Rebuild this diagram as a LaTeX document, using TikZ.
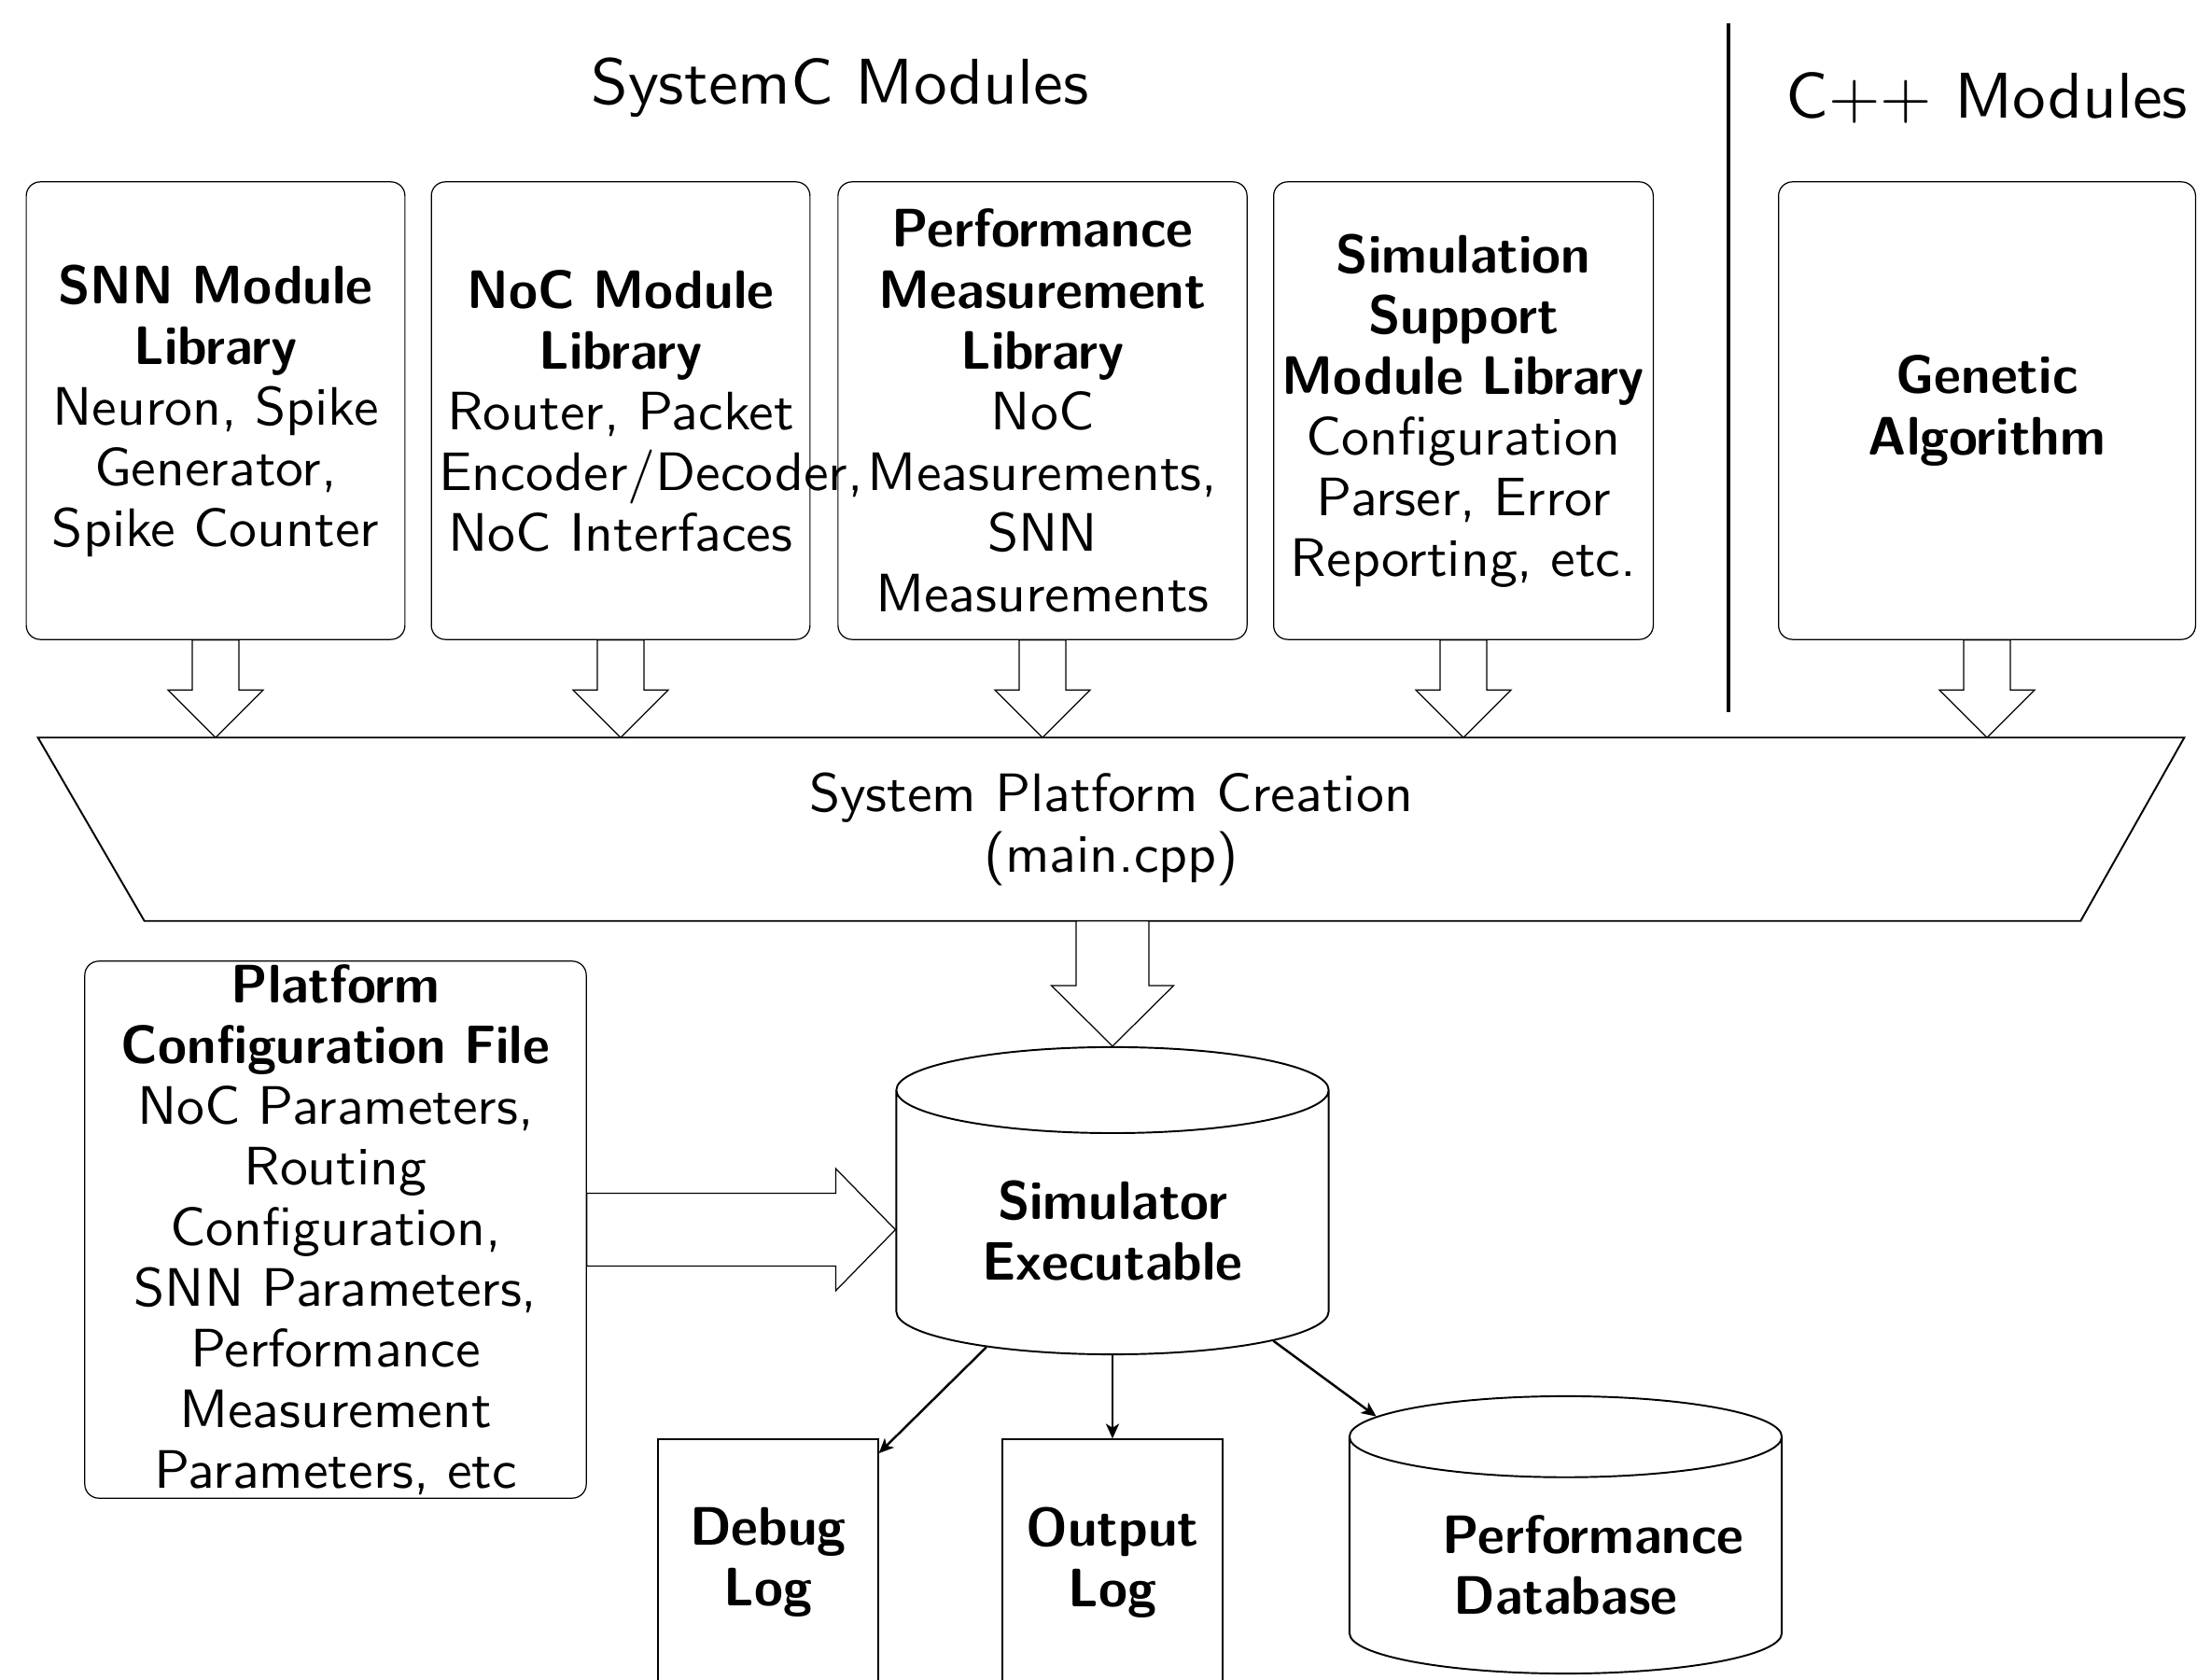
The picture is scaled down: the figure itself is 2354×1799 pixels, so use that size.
\documentclass[tikz,border=0pt]{standalone}
\usepackage{fontspec}
\setsansfont{lmsans10-regular.otf}[FakeStretch=1.03]
\newfontfamily\hdfont{lmsans10-bold.otf}[FakeStretch=0.97]
\renewcommand\familydefault{\sfdefault}
\usetikzlibrary{shapes.geometric,calc,arrows.meta}
\newcommand\boxfont{\fontsize{16.5}{18.5}\selectfont}
\newcommand\titlefont{\fontsize{19.7}{24}\selectfont}
\newcommand\hd[1]{{\hdfont #1}}
% #1 start point, #2 tip, #3 shaft half width, #4 head half width, #5 head length
\newcommand\blockdown[5]{%
  \draw[barrow] ($(#1)+(-#3,0)$) -- ($(#2)+(-#3,#5)$) -- ($(#2)+(-#4,#5)$) -- (#2)
    -- ($(#2)+(#4,#5)$) -- ($(#2)+(#3,#5)$) -- ($(#1)+(#3,0)$) -- cycle;}
\newcommand\blockright[5]{%
  \draw[barrow] ($(#1)+(0,#3)$) -- ($(#2)+(-#5,#3)$) -- ($(#2)+(-#5,#4)$) -- (#2)
    -- ($(#2)+(-#5,-#4)$) -- ($(#2)+(-#5,-#3)$) -- ($(#1)+(0,-#3)$) -- cycle;}
\begin{document}
\begin{tikzpicture}[x=0.01cm,y=0.01cm,
  modbox/.style={draw, line width=0.35pt, rounded corners=0.15cm, minimum height=4.9cm,
    inner xsep=0.08cm, inner ysep=0pt, align=center, font=\boxfont},
  logbox/.style={draw, line width=0.35pt, minimum width=2.36cm, minimum height=2.64cm,
    inner sep=0pt, align=center, font=\boxfont\hdfont},
  cyl/.style={cylinder, shape border rotate=90, draw, line width=0.55pt, aspect=0.33,
    align=center, font=\boxfont\hdfont, inner sep=0pt},
  barrow/.style={draw, line width=0.35pt, fill=white},
  conn/.style={-{Stealth[length=4.5pt,width=4pt,inset=1.2pt]}, line width=0.7pt}]
\useasboundingbox (0,0) rectangle (2354,1799);
\clip (0,0) rectangle (2354,1799);
\fill[white] (0,0) rectangle (2354,1799);

% titles
\node[font=\titlefont] (t1) at (900,1705) {SystemC Modules};
\node[font=\titlefont] (t2) at (2129,1694) {C++ Modules};
\draw[line width=0.9pt] (1852,1774) -- (1852,1036);

% module boxes
\node[modbox, text width=3.895cm] (b1) at (231,1359)
  {\hd{SNN~Module}\\\hd{Library}\\Neuron,~Spike\\Generator,\\Spike~Counter};
\node[modbox, text width=3.895cm] (b2) at (665,1359)
  {\hd{NoC~Module}\\\hd{Library}\\Router,~Packet\\Encoder/Decoder,\\NoC~Interfaces};
\node[modbox, text width=4.22cm] (b3) at (1117,1359)
  {\hd{Performance}\\\hd{Measurement}\\\hd{Library}\\NoC\\Measurements,\\SNN\\Measurements};
\node[modbox, text width=3.905cm] (b4) at (1568,1359)
  {\hd{Simulation}\\\hd{Support}\\\hd{Module~Library}\\Configuration\\Parser,~Error\\Reporting,~etc.};
\node[modbox, text width=4.305cm] (b5) at (2129,1359)
  {\hd{Genetic}\\\hd{Algorithm}};

% platform creation
\node[minimum width=22.97cm, minimum height=1.95cm, inner sep=0pt, align=center,
  font=\boxfont] (plat) at (1190.5,910.5) {System Platform Creation\\(main.cpp)};
\draw[line width=0.55pt] (plat.north west) -- (plat.north east)
  -- ([xshift=-1.11cm]plat.south east) -- ([xshift=1.14cm]plat.south west) -- cycle;

% simulator and outputs
\node[cyl, minimum width=4.63cm, minimum height=3.29cm, anchor=shape center] (sim) at (1192,512.5)
  {\rule{0pt}{0.58cm}Simulator\\Executable};
\node[cyl, minimum width=4.63cm, minimum height=2.97cm, text width=2.63cm, anchor=shape center] (db) at (1677.5,154.5)
  {\rule{0pt}{0.62cm}Performance\\Database};
\node[logbox] (dbg) at (823,125) {Debug\\Log};
\node[logbox] (out) at (1192,125) {Output\\Log};

% configuration file
\node[draw, line width=0.35pt, rounded corners=0.15cm, minimum width=5.37cm, text width=5.21cm,
  minimum height=5.75cm, inner xsep=0.08cm, inner ysep=0pt, align=center, font=\boxfont]
  (cfg) at (359.5,481.5)
  {\hd{Platform}\\\hd{Configuration~File}\\NoC~Parameters,\\Routing\\Configuration,\\SNN~Parameters,\\Performance\\Measurement\\Parameters,~etc};

% block arrows
\blockdown{b1.south}{b1.south |- plat.north}{25}{51}{51}
\blockdown{b2.south}{b2.south |- plat.north}{25}{51}{51}
\blockdown{b3.south}{b3.south |- plat.north}{25}{51}{51}
\blockdown{b4.south}{b4.south |- plat.north}{25}{51}{51}
\blockdown{b5.south}{b5.south |- plat.north}{25}{51}{51}
\blockdown{plat.south -| sim.north}{sim.north}{39}{65.5}{65}
\blockright{cfg.east}{sim.west |- cfg.east}{39}{65.5}{64}

% connectors
\draw[conn] (sim) -- (dbg);
\draw[conn] (sim) -- (out);
\draw[conn] (sim) -- (db);
\end{tikzpicture}
\end{document}
